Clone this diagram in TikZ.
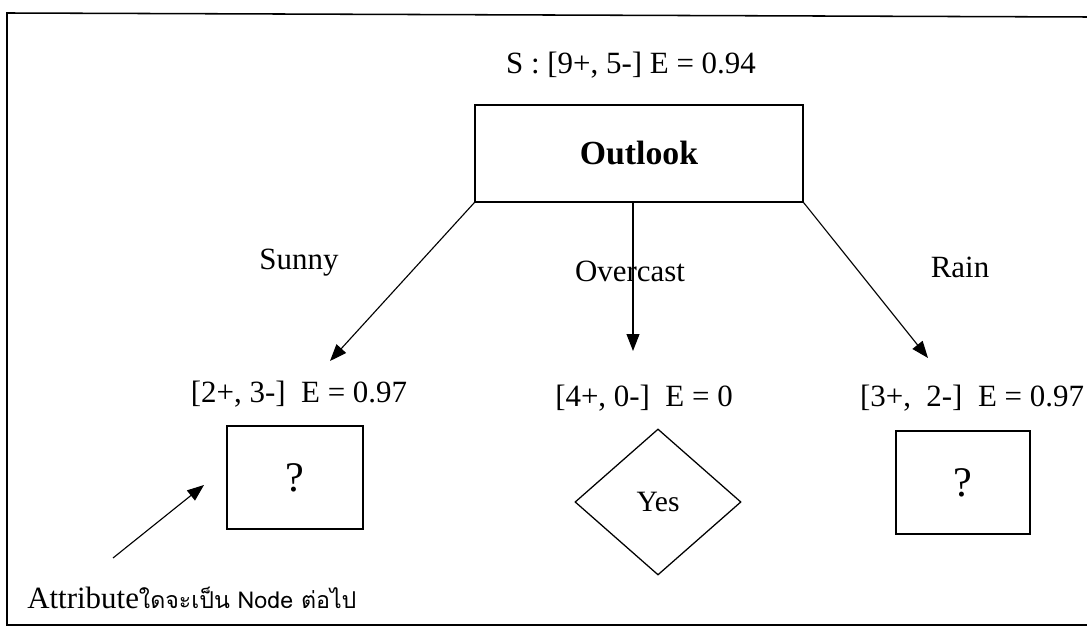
\documentclass[tikz,border=0pt]{standalone}
\usepackage{fontspec}
\setmainfont{Liberation Serif}
\newfontfamily\thaifont[Script=Thai]{Loma}
\usepackage{tikz}
\usetikzlibrary{arrows.meta,positioning,shapes.geometric}
\tikzset{
  attrbox/.style={draw, line width=0.9pt, inner sep=0pt, font=\fontsize{30}{34}\selectfont},
  leafdia/.style={draw, diamond, line width=0.9pt, inner sep=0pt},
  lbl/.style={inner sep=0pt},
  branch/.style={->, line width=0.8pt},
}
\newcommand{\bigtxt}{\fontsize{22}{26}\selectfont}

\begin{document}
\begin{tikzpicture}[x=0.025cm, y=-0.025cm, >={Triangle[length=4.2mm, width=3.2mm]}, font=\bigtxt]
\useasboundingbox (0,0) rectangle (1087,628);
% frame, open on the right
\draw[line width=1.1pt] (1087,17) -- (7,13) -- (7,625) -- (1087,625);
% root
\node[lbl] (rootinfo) at (631,65) {S : [9+, 5-] E = 0.94};
\node[attrbox, minimum width=8.2cm, minimum height=2.425cm, font=\fontsize{24}{28}\selectfont\bfseries] (outlook) at (639,153.5) {Outlook};
% branch ends
\coordinate (sunnyend) at (330,361);
\coordinate (overend) at (633,351);
\coordinate (rainend) at (928,358);
\draw[branch] (outlook.south west) -- (sunnyend);
\draw[branch] (outlook.south -| overend) -- (overend);
\draw[branch] (outlook.south east) -- (rainend);
\node[lbl] (sunny) at (299,263) {Sunny};
\node[lbl] (overcast) at (630,271) {Overcast};
\node[lbl] (rain) at (960,267) {Rain};
% children
\node[lbl] (sunnyinfo) at (299,394) {[2+, 3-]\ \ E = 0.97};
\node[lbl] (overinfo) at (644,398) {[4+, 0-]\ \ E = 0};
\node[lbl] (raininfo) at (972,398) {[3+,\ \ 2-]\ \ E = 0.97};
\node[attrbox, minimum width=3.4cm, minimum height=2.575cm] (sunnybox) at (295,477.5) {?};
\node[leafdia, minimum width=4.15cm, minimum height=3.65cm, font=\fontsize{21}{25}\selectfont] (yes) at (658,502) {Yes};
\node[attrbox, minimum width=3.35cm, minimum height=2.575cm] (rainbox) at (963,482.5) {?};
% note
\node[lbl, anchor=west, font=\fontsize{22}{26}\selectfont] (note) at (27,598) {Attribute\thaifont\fontsize{16.5}{20}\selectfont ใดจะเป็น Node ต่อไป};
\coordinate (notetail) at (113,558);
\coordinate (notetip) at (204,485);
\draw[branch] (notetail) -- (notetip);
\end{tikzpicture}
\end{document}
